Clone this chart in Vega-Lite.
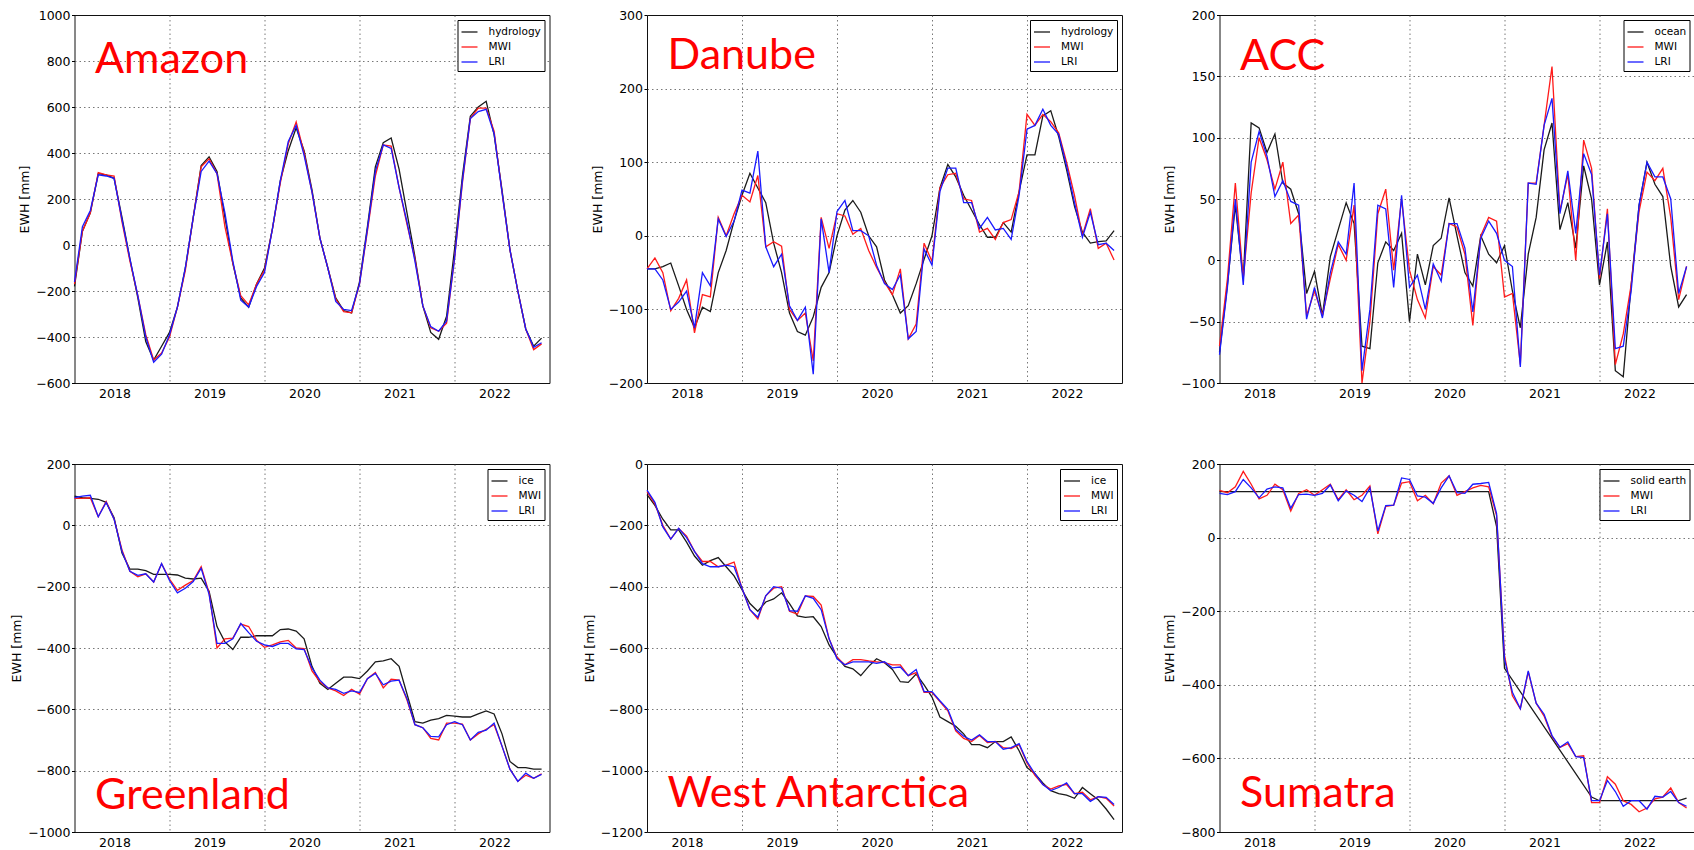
{
  "$schema": "https://vega.github.io/schema/vega-lite/v6.json",
  "padding": {"left": 9.5, "top": 8, "right": 0, "bottom": 0},
  "background": "white",
  "config": {
    "font": "DejaVu Sans",
    "view": {"stroke": "#111", "strokeWidth": 1},
    "axis": {"labelFont": "DejaVu Sans", "labelFontSize": 12.5, "labelColor": "#000", "titleFont": "DejaVu Sans", "titleFontSize": 12.5, "titleFontWeight": "normal", "titleColor": "#000", "domain": false, "grid": true, "gridColor": "#555", "gridDash": [1.5, 3], "gridWidth": 0.8},
    "axisY": {"tickSize": 3, "tickColor": "#000", "labelPadding": 1.5, "titlePadding": 4},
    "axisX": {"labelPadding": 4},
    "legend": {"orient": "top-right", "offset": 5, "strokeColor": "#000", "fillColor": "#fff", "padding": 3, "cornerRadius": 0, "labelFont": "DejaVu Sans", "labelFontSize": 10.5, "labelColor": "#000", "symbolType": "stroke", "symbolSize": 256, "symbolStrokeWidth": 1.5, "labelOffset": 10, "rowPadding": 0},
    "line": {"strokeWidth": 1.3, "clip": true},
    "text": {"font": "Lato", "fontSize": 43, "color": "#ff0000", "align": "left", "baseline": "alphabetic"}
  },
  "datasets": {
    "amazon": [
      {"m":0,"hydrology":-180,"MWI":-170,"LRI":-160},{"m":1,"hydrology":60,"MWI":60,"LRI":80},{"m":2,"hydrology":140,"MWI":140,"LRI":150},{"m":3,"hydrology":310,"MWI":315,"LRI":305},{"m":4,"hydrology":305,"MWI":305,"LRI":300},{"m":5,"hydrology":290,"MWI":300,"LRI":290},{"m":6,"hydrology":120,"MWI":100,"LRI":110},{"m":7,"hydrology":-60,"MWI":-70,"LRI":-60},{"m":8,"hydrology":-230,"MWI":-220,"LRI":-220},{"m":9,"hydrology":-420,"MWI":-390,"LRI":-400},
      {"m":10,"hydrology":-500,"MWI":-500,"LRI":-510},{"m":11,"hydrology":-440,"MWI":-470,"LRI":-475},{"m":12,"hydrology":-380,"MWI":-400,"LRI":-390},{"m":13,"hydrology":-270,"MWI":-270,"LRI":-270},{"m":14,"hydrology":-100,"MWI":-110,"LRI":-100},{"m":15,"hydrology":120,"MWI":120,"LRI":120},{"m":16,"hydrology":345,"MWI":340,"LRI":320},{"m":17,"hydrology":383,"MWI":375,"LRI":365},{"m":18,"hydrology":320,"MWI":310,"LRI":310},{"m":19,"hydrology":120,"MWI":80,"LRI":140},
      {"m":20,"hydrology":-80,"MWI":-80,"LRI":-70},{"m":21,"hydrology":-230,"MWI":-220,"LRI":-240},{"m":22,"hydrology":-270,"MWI":-260,"LRI":-270},{"m":23,"hydrology":-170,"MWI":-170,"LRI":-180},{"m":24,"hydrology":-100,"MWI":-110,"LRI":-120},{"m":25,"hydrology":70,"MWI":70,"LRI":70},{"m":26,"hydrology":280,"MWI":270,"LRI":280},{"m":27,"hydrology":410,"MWI":440,"LRI":450},{"m":28,"hydrology":510,"MWI":535,"LRI":520},{"m":29,"hydrology":410,"MWI":400,"LRI":390},
      {"m":30,"hydrology":240,"MWI":230,"LRI":230},{"m":31,"hydrology":30,"MWI":30,"LRI":30},{"m":32,"hydrology":-100,"MWI":-100,"LRI":-100},{"m":33,"hydrology":-230,"MWI":-235,"LRI":-245},{"m":34,"hydrology":-285,"MWI":-290,"LRI":-280},{"m":35,"hydrology":-295,"MWI":-295,"LRI":-285},{"m":36,"hydrology":-160,"MWI":-170,"LRI":-170},{"m":37,"hydrology":80,"MWI":60,"LRI":70},{"m":38,"hydrology":340,"MWI":300,"LRI":320},{"m":39,"hydrology":445,"MWI":435,"LRI":435},
      {"m":40,"hydrology":465,"MWI":430,"LRI":420},{"m":41,"hydrology":330,"MWI":250,"LRI":250},{"m":42,"hydrology":140,"MWI":90,"LRI":100},{"m":43,"hydrology":-50,"MWI":-60,"LRI":-70},{"m":44,"hydrology":-265,"MWI":-265,"LRI":-265},{"m":45,"hydrology":-380,"MWI":-360,"LRI":-355},{"m":46,"hydrology":-410,"MWI":-375,"LRI":-375},{"m":47,"hydrology":-310,"MWI":-340,"LRI":-330},{"m":48,"hydrology":-20,"MWI":-60,"LRI":-60},{"m":49,"hydrology":300,"MWI":270,"LRI":280},
      {"m":50,"hydrology":560,"MWI":550,"LRI":550},{"m":51,"hydrology":600,"MWI":595,"LRI":580},{"m":52,"hydrology":625,"MWI":595,"LRI":590},{"m":53,"hydrology":480,"MWI":495,"LRI":485},{"m":54,"hydrology":240,"MWI":230,"LRI":230},{"m":55,"hydrology":-20,"MWI":-20,"LRI":-20},{"m":56,"hydrology":-200,"MWI":-200,"LRI":-200},{"m":57,"hydrology":-365,"MWI":-365,"LRI":-365},{"m":58,"hydrology":-440,"MWI":-455,"LRI":-445},{"m":59,"hydrology":-405,"MWI":-430,"LRI":-425}
    ],
    "danube": [
      {"m":0,"hydrology":-45,"MWI":-45,"LRI":-45},{"m":1,"hydrology":-45,"MWI":-30,"LRI":-45},{"m":2,"hydrology":-42,"MWI":-50,"LRI":-60},{"m":3,"hydrology":-37,"MWI":-102,"LRI":-100},{"m":4,"hydrology":-68,"MWI":-85,"LRI":-90},{"m":5,"hydrology":-100,"MWI":-60,"LRI":-75},{"m":6,"hydrology":-125,"MWI":-132,"LRI":-125},{"m":7,"hydrology":-97,"MWI":-80,"LRI":-50},{"m":8,"hydrology":-103,"MWI":-83,"LRI":-68},{"m":9,"hydrology":-50,"MWI":25,"LRI":23},
      {"m":10,"hydrology":-20,"MWI":0,"LRI":-1},{"m":11,"hydrology":20,"MWI":30,"LRI":20},{"m":12,"hydrology":55,"MWI":55,"LRI":62},{"m":13,"hydrology":85,"MWI":46,"LRI":58},{"m":14,"hydrology":65,"MWI":82,"LRI":115},{"m":15,"hydrology":45,"MWI":-15,"LRI":-15},{"m":16,"hydrology":-10,"MWI":-8,"LRI":-42},{"m":17,"hydrology":-50,"MWI":-14,"LRI":-25},{"m":18,"hydrology":-105,"MWI":-100,"LRI":-95},{"m":19,"hydrology":-130,"MWI":-115,"LRI":-115},
      {"m":20,"hydrology":-135,"MWI":-105,"LRI":-97},{"m":21,"hydrology":-110,"MWI":-170,"LRI":-188},{"m":22,"hydrology":-70,"MWI":25,"LRI":23},{"m":23,"hydrology":-50,"MWI":-17,"LRI":-50},{"m":24,"hydrology":0,"MWI":30,"LRI":33},{"m":25,"hydrology":35,"MWI":27,"LRI":48},{"m":26,"hydrology":48,"MWI":2,"LRI":7},{"m":27,"hydrology":32,"MWI":10,"LRI":7},{"m":28,"hydrology":0,"MWI":-20,"LRI":0},{"m":29,"hydrology":-15,"MWI":-43,"LRI":-40},
      {"m":30,"hydrology":-60,"MWI":-63,"LRI":-65},{"m":31,"hydrology":-80,"MWI":-80,"LRI":-73},{"m":32,"hydrology":-105,"MWI":-45,"LRI":-53},{"m":33,"hydrology":-95,"MWI":-140,"LRI":-140},{"m":34,"hydrology":-65,"MWI":-120,"LRI":-130},{"m":35,"hydrology":-32,"MWI":-10,"LRI":-18},{"m":36,"hydrology":0,"MWI":-35,"LRI":-40},{"m":37,"hydrology":65,"MWI":65,"LRI":60},{"m":38,"hydrology":97,"MWI":83,"LRI":92},{"m":39,"hydrology":80,"MWI":85,"LRI":92},
      {"m":40,"hydrology":55,"MWI":50,"LRI":45},{"m":41,"hydrology":35,"MWI":48,"LRI":45},{"m":42,"hydrology":15,"MWI":5,"LRI":10},{"m":43,"hydrology":-2,"MWI":10,"LRI":25},{"m":44,"hydrology":-2,"MWI":-5,"LRI":8},{"m":45,"hydrology":18,"MWI":18,"LRI":10},{"m":46,"hydrology":5,"MWI":22,"LRI":-5},{"m":47,"hydrology":60,"MWI":60,"LRI":55},{"m":48,"hydrology":110,"MWI":165,"LRI":145},{"m":49,"hydrology":110,"MWI":150,"LRI":150},
      {"m":50,"hydrology":163,"MWI":165,"LRI":172},{"m":51,"hydrology":170,"MWI":155,"LRI":150},{"m":52,"hydrology":135,"MWI":140,"LRI":138},{"m":53,"hydrology":90,"MWI":100,"LRI":95},{"m":54,"hydrology":40,"MWI":55,"LRI":45},{"m":55,"hydrology":5,"MWI":0,"LRI":-2},{"m":56,"hydrology":-10,"MWI":37,"LRI":32},{"m":57,"hydrology":-8,"MWI":-17,"LRI":-12},{"m":58,"hydrology":-7,"MWI":-10,"LRI":-10},{"m":59,"hydrology":7,"MWI":-33,"LRI":-20}
    ],
    "acc": [
      {"m":0,"ocean":-75,"MWI":-70,"LRI":-77},{"m":1,"ocean":-20,"MWI":-15,"LRI":-22},{"m":2,"ocean":45,"MWI":63,"LRI":50},{"m":3,"ocean":-15,"MWI":-15,"LRI":-20},{"m":4,"ocean":112,"MWI":55,"LRI":80},{"m":5,"ocean":108,"MWI":100,"LRI":105},{"m":6,"ocean":88,"MWI":82,"LRI":85},{"m":7,"ocean":103,"MWI":58,"LRI":52},{"m":8,"ocean":63,"MWI":80,"LRI":65},{"m":9,"ocean":58,"MWI":30,"LRI":48},
      {"m":10,"ocean":38,"MWI":37,"LRI":45},{"m":11,"ocean":-27,"MWI":-45,"LRI":-48},{"m":12,"ocean":-9,"MWI":-25,"LRI":-22},{"m":13,"ocean":-45,"MWI":-45,"LRI":-47},{"m":14,"ocean":3,"MWI":-15,"LRI":-10},{"m":15,"ocean":25,"MWI":13,"LRI":15},{"m":16,"ocean":47,"MWI":0,"LRI":5},{"m":17,"ocean":30,"MWI":45,"LRI":63},{"m":18,"ocean":-70,"MWI":-100,"LRI":-90},{"m":19,"ocean":-72,"MWI":-50,"LRI":-40},
      {"m":20,"ocean":-2,"MWI":38,"LRI":45},{"m":21,"ocean":15,"MWI":58,"LRI":42},{"m":22,"ocean":8,"MWI":-8,"LRI":-22},{"m":23,"ocean":22,"MWI":50,"LRI":53},{"m":24,"ocean":-50,"MWI":-8,"LRI":-22},{"m":25,"ocean":5,"MWI":-32,"LRI":-12},{"m":26,"ocean":-20,"MWI":-47,"LRI":-40},{"m":27,"ocean":12,"MWI":-5,"LRI":-3},{"m":28,"ocean":18,"MWI":-12,"LRI":-17},{"m":29,"ocean":51,"MWI":30,"LRI":30},
      {"m":30,"ocean":20,"MWI":27,"LRI":30},{"m":31,"ocean":-10,"MWI":5,"LRI":10},{"m":32,"ocean":-21,"MWI":-53,"LRI":-42},{"m":33,"ocean":20,"MWI":20,"LRI":18},{"m":34,"ocean":5,"MWI":35,"LRI":32},{"m":35,"ocean":-2,"MWI":32,"LRI":22},{"m":36,"ocean":12,"MWI":-30,"LRI":0},{"m":37,"ocean":-25,"MWI":-27,"LRI":-5},{"m":38,"ocean":-55,"MWI":-85,"LRI":-87},{"m":39,"ocean":5,"MWI":63,"LRI":63},
      {"m":40,"ocean":35,"MWI":63,"LRI":62},{"m":41,"ocean":90,"MWI":110,"LRI":110},{"m":42,"ocean":112,"MWI":158,"LRI":132},{"m":43,"ocean":25,"MWI":40,"LRI":38},{"m":44,"ocean":47,"MWI":70,"LRI":73},{"m":45,"ocean":10,"MWI":0,"LRI":22},{"m":46,"ocean":77,"MWI":98,"LRI":87},{"m":47,"ocean":50,"MWI":75,"LRI":70},{"m":48,"ocean":-20,"MWI":-15,"LRI":-12},{"m":49,"ocean":15,"MWI":42,"LRI":38},
      {"m":50,"ocean":-90,"MWI":-85,"LRI":-72},{"m":51,"ocean":-95,"MWI":-60,"LRI":-70},{"m":52,"ocean":-20,"MWI":-20,"LRI":-25},{"m":53,"ocean":45,"MWI":40,"LRI":45},{"m":54,"ocean":80,"MWI":72,"LRI":80},{"m":55,"ocean":62,"MWI":65,"LRI":68},{"m":56,"ocean":52,"MWI":75,"LRI":68},{"m":57,"ocean":-5,"MWI":35,"LRI":50},{"m":58,"ocean":-38,"MWI":-32,"LRI":-27},{"m":59,"ocean":-28,"MWI":-5,"LRI":-5}
    ],
    "greenland": [
      {"m":0,"ice":95,"MWI":88,"LRI":90},{"m":1,"ice":90,"MWI":88,"LRI":95},{"m":2,"ice":88,"MWI":90,"LRI":98},{"m":3,"ice":85,"MWI":28,"LRI":28},{"m":4,"ice":75,"MWI":78,"LRI":75},{"m":5,"ice":25,"MWI":20,"LRI":20},{"m":6,"ice":-90,"MWI":-80,"LRI":-85},{"m":7,"ice":-143,"MWI":-150,"LRI":-150},{"m":8,"ice":-143,"MWI":-168,"LRI":-163},{"m":9,"ice":-148,"MWI":-158,"LRI":-158},
      {"m":10,"ice":-160,"MWI":-185,"LRI":-185},{"m":11,"ice":-160,"MWI":-125,"LRI":-125},{"m":12,"ice":-160,"MWI":-175,"LRI":-180},{"m":13,"ice":-162,"MWI":-212,"LRI":-220},{"m":14,"ice":-172,"MWI":-195,"LRI":-205},{"m":15,"ice":-175,"MWI":-180,"LRI":-183},{"m":16,"ice":-172,"MWI":-135,"LRI":-140},{"m":17,"ice":-215,"MWI":-220,"LRI":-225},{"m":18,"ice":-330,"MWI":-400,"LRI":-385},{"m":19,"ice":-380,"MWI":-370,"LRI":-385},
      {"m":20,"ice":-405,"MWI":-368,"LRI":-370},{"m":21,"ice":-365,"MWI":-322,"LRI":-320},{"m":22,"ice":-365,"MWI":-330,"LRI":-350},{"m":23,"ice":-360,"MWI":-375,"LRI":-378},{"m":24,"ice":-360,"MWI":-398,"LRI":-390},{"m":25,"ice":-360,"MWI":-390,"LRI":-395},{"m":26,"ice":-340,"MWI":-380,"LRI":-385},{"m":27,"ice":-338,"MWI":-375,"LRI":-385},{"m":28,"ice":-345,"MWI":-400,"LRI":-403},{"m":29,"ice":-370,"MWI":-402,"LRI":-405},
      {"m":30,"ice":-460,"MWI":-475,"LRI":-465},{"m":31,"ice":-515,"MWI":-510,"LRI":-505},{"m":32,"ice":-535,"MWI":-530,"LRI":-530},{"m":33,"ice":-515,"MWI":-540,"LRI":-535},{"m":34,"ice":-495,"MWI":-555,"LRI":-548},{"m":35,"ice":-495,"MWI":-535,"LRI":-540},{"m":36,"ice":-500,"MWI":-550,"LRI":-545},{"m":37,"ice":-475,"MWI":-500,"LRI":-500},{"m":38,"ice":-445,"MWI":-480,"LRI":-483},{"m":39,"ice":-442,"MWI":-530,"LRI":-520},
      {"m":40,"ice":-435,"MWI":-502,"LRI":-508},{"m":41,"ice":-460,"MWI":-505,"LRI":-505},{"m":42,"ice":-550,"MWI":-570,"LRI":-565},{"m":43,"ice":-640,"MWI":-650,"LRI":-650},{"m":44,"ice":-645,"MWI":-660,"LRI":-660},{"m":45,"ice":-635,"MWI":-695,"LRI":-688},{"m":46,"ice":-630,"MWI":-700,"LRI":-690},{"m":47,"ice":-620,"MWI":-645,"LRI":-650},{"m":48,"ice":-622,"MWI":-645,"LRI":-640},{"m":49,"ice":-625,"MWI":-648,"LRI":-650},
      {"m":50,"ice":-625,"MWI":-700,"LRI":-700},{"m":51,"ice":-615,"MWI":-680,"LRI":-675},{"m":52,"ice":-605,"MWI":-665,"LRI":-668},{"m":53,"ice":-615,"MWI":-650,"LRI":-645},{"m":54,"ice":-680,"MWI":-720,"LRI":-720},{"m":55,"ice":-770,"MWI":-795,"LRI":-795},{"m":56,"ice":-790,"MWI":-835,"LRI":-835},{"m":57,"ice":-790,"MWI":-815,"LRI":-808},{"m":58,"ice":-795,"MWI":-825,"LRI":-825},{"m":59,"ice":-795,"MWI":-810,"LRI":-812}
    ],
    "westantarctica": [
      {"m":0,"ice":-100,"MWI":-90,"LRI":-85},{"m":1,"ice":-135,"MWI":-130,"LRI":-125},{"m":2,"ice":-180,"MWI":-200,"LRI":-205},{"m":3,"ice":-215,"MWI":-245,"LRI":-245},{"m":4,"ice":-215,"MWI":-210,"LRI":-210},{"m":5,"ice":-255,"MWI":-235,"LRI":-240},{"m":6,"ice":-300,"MWI":-285,"LRI":-285},{"m":7,"ice":-330,"MWI":-318,"LRI":-325},{"m":8,"ice":-315,"MWI":-318,"LRI":-335},{"m":9,"ice":-305,"MWI":-335,"LRI":-335},
      {"m":10,"ice":-335,"MWI":-330,"LRI":-330},{"m":11,"ice":-365,"MWI":-320,"LRI":-335},{"m":12,"ice":-410,"MWI":-405,"LRI":-405},{"m":13,"ice":-455,"MWI":-475,"LRI":-475},{"m":14,"ice":-480,"MWI":-505,"LRI":-500},{"m":15,"ice":-450,"MWI":-430,"LRI":-430},{"m":16,"ice":-440,"MWI":-405,"LRI":-400},{"m":17,"ice":-420,"MWI":-400,"LRI":-405},{"m":18,"ice":-455,"MWI":-480,"LRI":-478},{"m":19,"ice":-495,"MWI":-490,"LRI":-480},
      {"m":20,"ice":-500,"MWI":-430,"LRI":-430},{"m":21,"ice":-498,"MWI":-432,"LRI":-438},{"m":22,"ice":-530,"MWI":-460,"LRI":-475},{"m":23,"ice":-590,"MWI":-570,"LRI":-570},{"m":24,"ice":-630,"MWI":-630,"LRI":-635},{"m":25,"ice":-660,"MWI":-655,"LRI":-655},{"m":26,"ice":-668,"MWI":-638,"LRI":-645},{"m":27,"ice":-690,"MWI":-638,"LRI":-645},{"m":28,"ice":-660,"MWI":-642,"LRI":-645},{"m":29,"ice":-635,"MWI":-645,"LRI":-650},
      {"m":30,"ice":-648,"MWI":-648,"LRI":-645},{"m":31,"ice":-670,"MWI":-655,"LRI":-665},{"m":32,"ice":-710,"MWI":-655,"LRI":-662},{"m":33,"ice":-712,"MWI":-690,"LRI":-690},{"m":34,"ice":-685,"MWI":-680,"LRI":-670},{"m":35,"ice":-720,"MWI":-745,"LRI":-742},{"m":36,"ice":-760,"MWI":-745,"LRI":-742},{"m":37,"ice":-825,"MWI":-775,"LRI":-772},{"m":38,"ice":-840,"MWI":-805,"LRI":-800},{"m":39,"ice":-855,"MWI":-870,"LRI":-865},
      {"m":40,"ice":-880,"MWI":-895,"LRI":-888},{"m":41,"ice":-915,"MWI":-905,"LRI":-900},{"m":42,"ice":-915,"MWI":-885,"LRI":-883},{"m":43,"ice":-925,"MWI":-908,"LRI":-905},{"m":44,"ice":-905,"MWI":-905,"LRI":-905},{"m":45,"ice":-905,"MWI":-925,"LRI":-930},{"m":46,"ice":-890,"MWI":-928,"LRI":-925},{"m":47,"ice":-935,"MWI":-915,"LRI":-912},{"m":48,"ice":-990,"MWI":-975,"LRI":-970},{"m":49,"ice":-1010,"MWI":-1015,"LRI":-1010},
      {"m":50,"ice":-1040,"MWI":-1045,"LRI":-1045},{"m":51,"ice":-1065,"MWI":-1060,"LRI":-1065},{"m":52,"ice":-1075,"MWI":-1050,"LRI":-1055},{"m":53,"ice":-1080,"MWI":-1045,"LRI":-1040},{"m":54,"ice":-1090,"MWI":-1075,"LRI":-1075},{"m":55,"ice":-1055,"MWI":-1070,"LRI":-1075},{"m":56,"ice":-1075,"MWI":-1095,"LRI":-1100},{"m":57,"ice":-1095,"MWI":-1085,"LRI":-1085},{"m":58,"ice":-1125,"MWI":-1090,"LRI":-1087},{"m":59,"ice":-1160,"MWI":-1115,"LRI":-1110}
    ],
    "sumatra": [
      {"m":0,"solid earth":125,"MWI":128,"LRI":120},{"m":1,"MWI":122,"LRI":117},{"m":2,"MWI":138,"LRI":125},{"m":3,"MWI":180,"LRI":158},{"m":4,"MWI":145,"LRI":135},{"m":5,"MWI":105,"LRI":108},{"m":6,"MWI":115,"LRI":132},{"m":7,"MWI":145,"LRI":138},{"m":8,"MWI":130,"LRI":135},{"m":9,"MWI":72,"LRI":80},
      {"m":10,"MWI":120,"LRI":117},{"m":11,"MWI":130,"LRI":118},{"m":12,"MWI":115,"LRI":115},{"m":13,"MWI":130,"LRI":120},{"m":14,"MWI":145,"LRI":143},{"m":15,"MWI":103,"LRI":100},{"m":16,"MWI":130,"LRI":127},{"m":17,"MWI":103,"LRI":115},{"m":18,"MWI":115,"LRI":98},{"m":19,"MWI":140,"LRI":135},
      {"m":20,"MWI":10,"LRI":18},{"m":21,"MWI":85,"LRI":87},{"m":22,"MWI":88,"LRI":88},{"m":23,"MWI":148,"LRI":162},{"m":24,"MWI":152,"LRI":158},{"m":25,"MWI":100,"LRI":113},{"m":26,"MWI":115,"LRI":110},{"m":27,"MWI":92,"LRI":93},{"m":28,"MWI":148,"LRI":135},{"m":29,"MWI":168,"LRI":168},
      {"m":30,"MWI":115,"LRI":122},{"m":31,"MWI":125,"LRI":120},{"m":32,"MWI":135,"LRI":145},{"m":33,"MWI":142,"LRI":147},{"m":34,"solid earth":125,"MWI":138,"LRI":150},{"m":35,"solid earth":30,"MWI":60,"LRI":65},{"m":36,"solid earth":-355,"MWI":-320,"LRI":-330},{"m":37,"MWI":-430,"LRI":-420},{"m":38,"MWI":-465,"LRI":-465},{"m":39,"MWI":-365,"LRI":-362},
      {"m":40,"MWI":-450,"LRI":-450},{"m":41,"MWI":-485,"LRI":-480},{"m":42,"MWI":-540,"LRI":-538},{"m":43,"MWI":-570,"LRI":-570},{"m":44,"MWI":-560,"LRI":-555},{"m":45,"MWI":-595,"LRI":-595},{"m":46,"MWI":-593,"LRI":-598},{"m":47,"solid earth":-705,"MWI":-720,"LRI":-715},{"m":48,"solid earth":-715,"MWI":-720,"LRI":-715},{"m":49,"MWI":-650,"LRI":-660},
      {"m":50,"MWI":-670,"LRI":-690},{"m":51,"MWI":-715,"LRI":-730},{"m":52,"MWI":-725,"LRI":-715},{"m":53,"MWI":-745,"LRI":-715},{"m":54,"MWI":-735,"LRI":-738},{"m":55,"MWI":-710,"LRI":-703},{"m":56,"MWI":-705,"LRI":-705},{"m":57,"MWI":-680,"LRI":-690},{"m":58,"solid earth":-715,"MWI":-720,"LRI":-720},{"m":59,"solid earth":-708,"MWI":-735,"LRI":-730}
    ]
  },
  "columns": 3,
  "spacing": {"row": 81, "column": 97.5},
  "bounds": "flush",
  "resolve": {"scale": {"color": "independent"}, "legend": {"color": "independent"}},
  "concat": [
    {
      "width": 475, "height": 368,
      "layer": [
        {
          "data": {"name": "amazon"},
          "transform": [{"fold": ["hydrology", "MWI", "LRI"], "as": ["series", "v"]}, {"filter": "isValid(datum.v)"}],
          "mark": "line",
          "encoding": {
            "x": {"field": "m", "type": "quantitative", "scale": {"domain": [0, 59]}, "axis": {"title": null, "values": [0, 12, 24, 36, 48], "labelExpr": "'' + (2018 + datum.value / 12)", "labelOffset": 40, "labelFlush": false, "labelOverlap": false, "ticks": false, "tickSize": 0, "gridOpacity": {"condition": {"test": "datum.value == 0", "value": 0}, "value": 1}}},
            "y": {"field": "v", "type": "quantitative", "scale": {"domain": [-600, 1000]}, "axis": {"title": "EWH [mm]", "values": [-600, -400, -200, 0, 200, 400, 600, 800, 1000], "format": "d", "gridOpacity": {"condition": {"test": "datum.value <= -600 || datum.value >= 1000", "value": 0}, "value": 1}}},
            "color": {"field": "series", "type": "nominal", "scale": {"domain": ["hydrology", "MWI", "LRI"], "range": ["#1a1a1a", "#ff1a1a", "#1a1aff"]}, "legend": {"title": null}}
          }
        },
        {
          "data": {"values": [{"label": "Amazon"}]},
          "mark": "text",
          "encoding": {"x": {"datum": 2.6}, "y": {"datum": 750}, "text": {"field": "label"}}
        }
      ]
    },
    {
      "width": 475, "height": 368,
      "layer": [
        {
          "data": {"name": "danube"},
          "transform": [{"fold": ["hydrology", "MWI", "LRI"], "as": ["series", "v"]}, {"filter": "isValid(datum.v)"}],
          "mark": "line",
          "encoding": {
            "x": {"field": "m", "type": "quantitative", "scale": {"domain": [0, 59]}, "axis": {"title": null, "values": [0, 12, 24, 36, 48], "labelExpr": "'' + (2018 + datum.value / 12)", "labelOffset": 40, "labelFlush": false, "labelOverlap": false, "ticks": false, "tickSize": 0, "gridOpacity": {"condition": {"test": "datum.value == 0", "value": 0}, "value": 1}}},
            "y": {"field": "v", "type": "quantitative", "scale": {"domain": [-200, 300]}, "axis": {"title": "EWH [mm]", "values": [-200, -100, 0, 100, 200, 300], "format": "d", "gridOpacity": {"condition": {"test": "datum.value <= -200 || datum.value >= 300", "value": 0}, "value": 1}}},
            "color": {"field": "series", "type": "nominal", "scale": {"domain": ["hydrology", "MWI", "LRI"], "range": ["#1a1a1a", "#ff1a1a", "#1a1aff"]}, "legend": {"title": null}}
          }
        },
        {
          "data": {"values": [{"label": "Danube"}]},
          "mark": "text",
          "encoding": {"x": {"datum": 2.6}, "y": {"datum": 226}, "text": {"field": "label"}}
        }
      ]
    },
    {
      "width": 475, "height": 368,
      "layer": [
        {
          "data": {"name": "acc"},
          "transform": [{"fold": ["ocean", "MWI", "LRI"], "as": ["series", "v"]}, {"filter": "isValid(datum.v)"}],
          "mark": "line",
          "encoding": {
            "x": {"field": "m", "type": "quantitative", "scale": {"domain": [0, 59]}, "axis": {"title": null, "values": [0, 12, 24, 36, 48], "labelExpr": "'' + (2018 + datum.value / 12)", "labelOffset": 40, "labelFlush": false, "labelOverlap": false, "ticks": false, "tickSize": 0, "gridOpacity": {"condition": {"test": "datum.value == 0", "value": 0}, "value": 1}}},
            "y": {"field": "v", "type": "quantitative", "scale": {"domain": [-100, 200]}, "axis": {"title": "EWH [mm]", "values": [-100, -50, 0, 50, 100, 150, 200], "format": "d", "gridOpacity": {"condition": {"test": "datum.value <= -100 || datum.value >= 200", "value": 0}, "value": 1}}},
            "color": {"field": "series", "type": "nominal", "scale": {"domain": ["ocean", "MWI", "LRI"], "range": ["#1a1a1a", "#ff1a1a", "#1a1aff"]}, "legend": {"title": null}}
          }
        },
        {
          "data": {"values": [{"label": "ACC"}]},
          "mark": "text",
          "encoding": {"x": {"datum": 2.6}, "y": {"datum": 155}, "text": {"field": "label"}}
        }
      ]
    },
    {
      "width": 475, "height": 368,
      "layer": [
        {
          "data": {"name": "greenland"},
          "transform": [{"fold": ["ice", "MWI", "LRI"], "as": ["series", "v"]}, {"filter": "isValid(datum.v)"}],
          "mark": "line",
          "encoding": {
            "x": {"field": "m", "type": "quantitative", "scale": {"domain": [0, 59]}, "axis": {"title": null, "values": [0, 12, 24, 36, 48], "labelExpr": "'' + (2018 + datum.value / 12)", "labelOffset": 40, "labelFlush": false, "labelOverlap": false, "ticks": false, "tickSize": 0, "gridOpacity": {"condition": {"test": "datum.value == 0", "value": 0}, "value": 1}}},
            "y": {"field": "v", "type": "quantitative", "scale": {"domain": [-1000, 200]}, "axis": {"title": "EWH [mm]", "values": [-1000, -800, -600, -400, -200, 0, 200], "format": "d", "gridOpacity": {"condition": {"test": "datum.value <= -1000 || datum.value >= 200", "value": 0}, "value": 1}}},
            "color": {"field": "series", "type": "nominal", "scale": {"domain": ["ice", "MWI", "LRI"], "range": ["#1a1a1a", "#ff1a1a", "#1a1aff"]}, "legend": {"title": null}}
          }
        },
        {
          "data": {"values": [{"label": "Greenland"}]},
          "mark": "text",
          "encoding": {"x": {"datum": 2.6}, "y": {"datum": -925}, "text": {"field": "label"}}
        }
      ]
    },
    {
      "width": 475, "height": 368,
      "layer": [
        {
          "data": {"name": "westantarctica"},
          "transform": [{"fold": ["ice", "MWI", "LRI"], "as": ["series", "v"]}, {"filter": "isValid(datum.v)"}],
          "mark": "line",
          "encoding": {
            "x": {"field": "m", "type": "quantitative", "scale": {"domain": [0, 59]}, "axis": {"title": null, "values": [0, 12, 24, 36, 48], "labelExpr": "'' + (2018 + datum.value / 12)", "labelOffset": 40, "labelFlush": false, "labelOverlap": false, "ticks": false, "tickSize": 0, "gridOpacity": {"condition": {"test": "datum.value == 0", "value": 0}, "value": 1}}},
            "y": {"field": "v", "type": "quantitative", "scale": {"domain": [-1200, 0]}, "axis": {"title": "EWH [mm]", "values": [-1200, -1000, -800, -600, -400, -200, 0], "format": "d", "gridOpacity": {"condition": {"test": "datum.value <= -1200 || datum.value >= 0", "value": 0}, "value": 1}}},
            "color": {"field": "series", "type": "nominal", "scale": {"domain": ["ice", "MWI", "LRI"], "range": ["#1a1a1a", "#ff1a1a", "#1a1aff"]}, "legend": {"title": null}}
          }
        },
        {
          "data": {"values": [{"label": "West Antarctica"}]},
          "mark": "text",
          "encoding": {"x": {"datum": 2.6}, "y": {"datum": -1117}, "text": {"field": "label"}}
        }
      ]
    },
    {
      "width": 475, "height": 368,
      "layer": [
        {
          "data": {"name": "sumatra"},
          "transform": [{"fold": ["solid earth", "MWI", "LRI"], "as": ["series", "v"]}, {"filter": "isValid(datum.v)"}],
          "mark": "line",
          "encoding": {
            "x": {"field": "m", "type": "quantitative", "scale": {"domain": [0, 59]}, "axis": {"title": null, "values": [0, 12, 24, 36, 48], "labelExpr": "'' + (2018 + datum.value / 12)", "labelOffset": 40, "labelFlush": false, "labelOverlap": false, "ticks": false, "tickSize": 0, "gridOpacity": {"condition": {"test": "datum.value == 0", "value": 0}, "value": 1}}},
            "y": {"field": "v", "type": "quantitative", "scale": {"domain": [-800, 200]}, "axis": {"title": "EWH [mm]", "values": [-800, -600, -400, -200, 0, 200], "format": "d", "gridOpacity": {"condition": {"test": "datum.value <= -800 || datum.value >= 200", "value": 0}, "value": 1}}},
            "color": {"field": "series", "type": "nominal", "scale": {"domain": ["solid earth", "MWI", "LRI"], "range": ["#1a1a1a", "#ff1a1a", "#1a1aff"]}, "legend": {"title": null}}
          }
        },
        {
          "data": {"values": [{"label": "Sumatra"}]},
          "mark": "text",
          "encoding": {"x": {"datum": 2.6}, "y": {"datum": -732}, "text": {"field": "label"}}
        }
      ]
    }
  ]
}
